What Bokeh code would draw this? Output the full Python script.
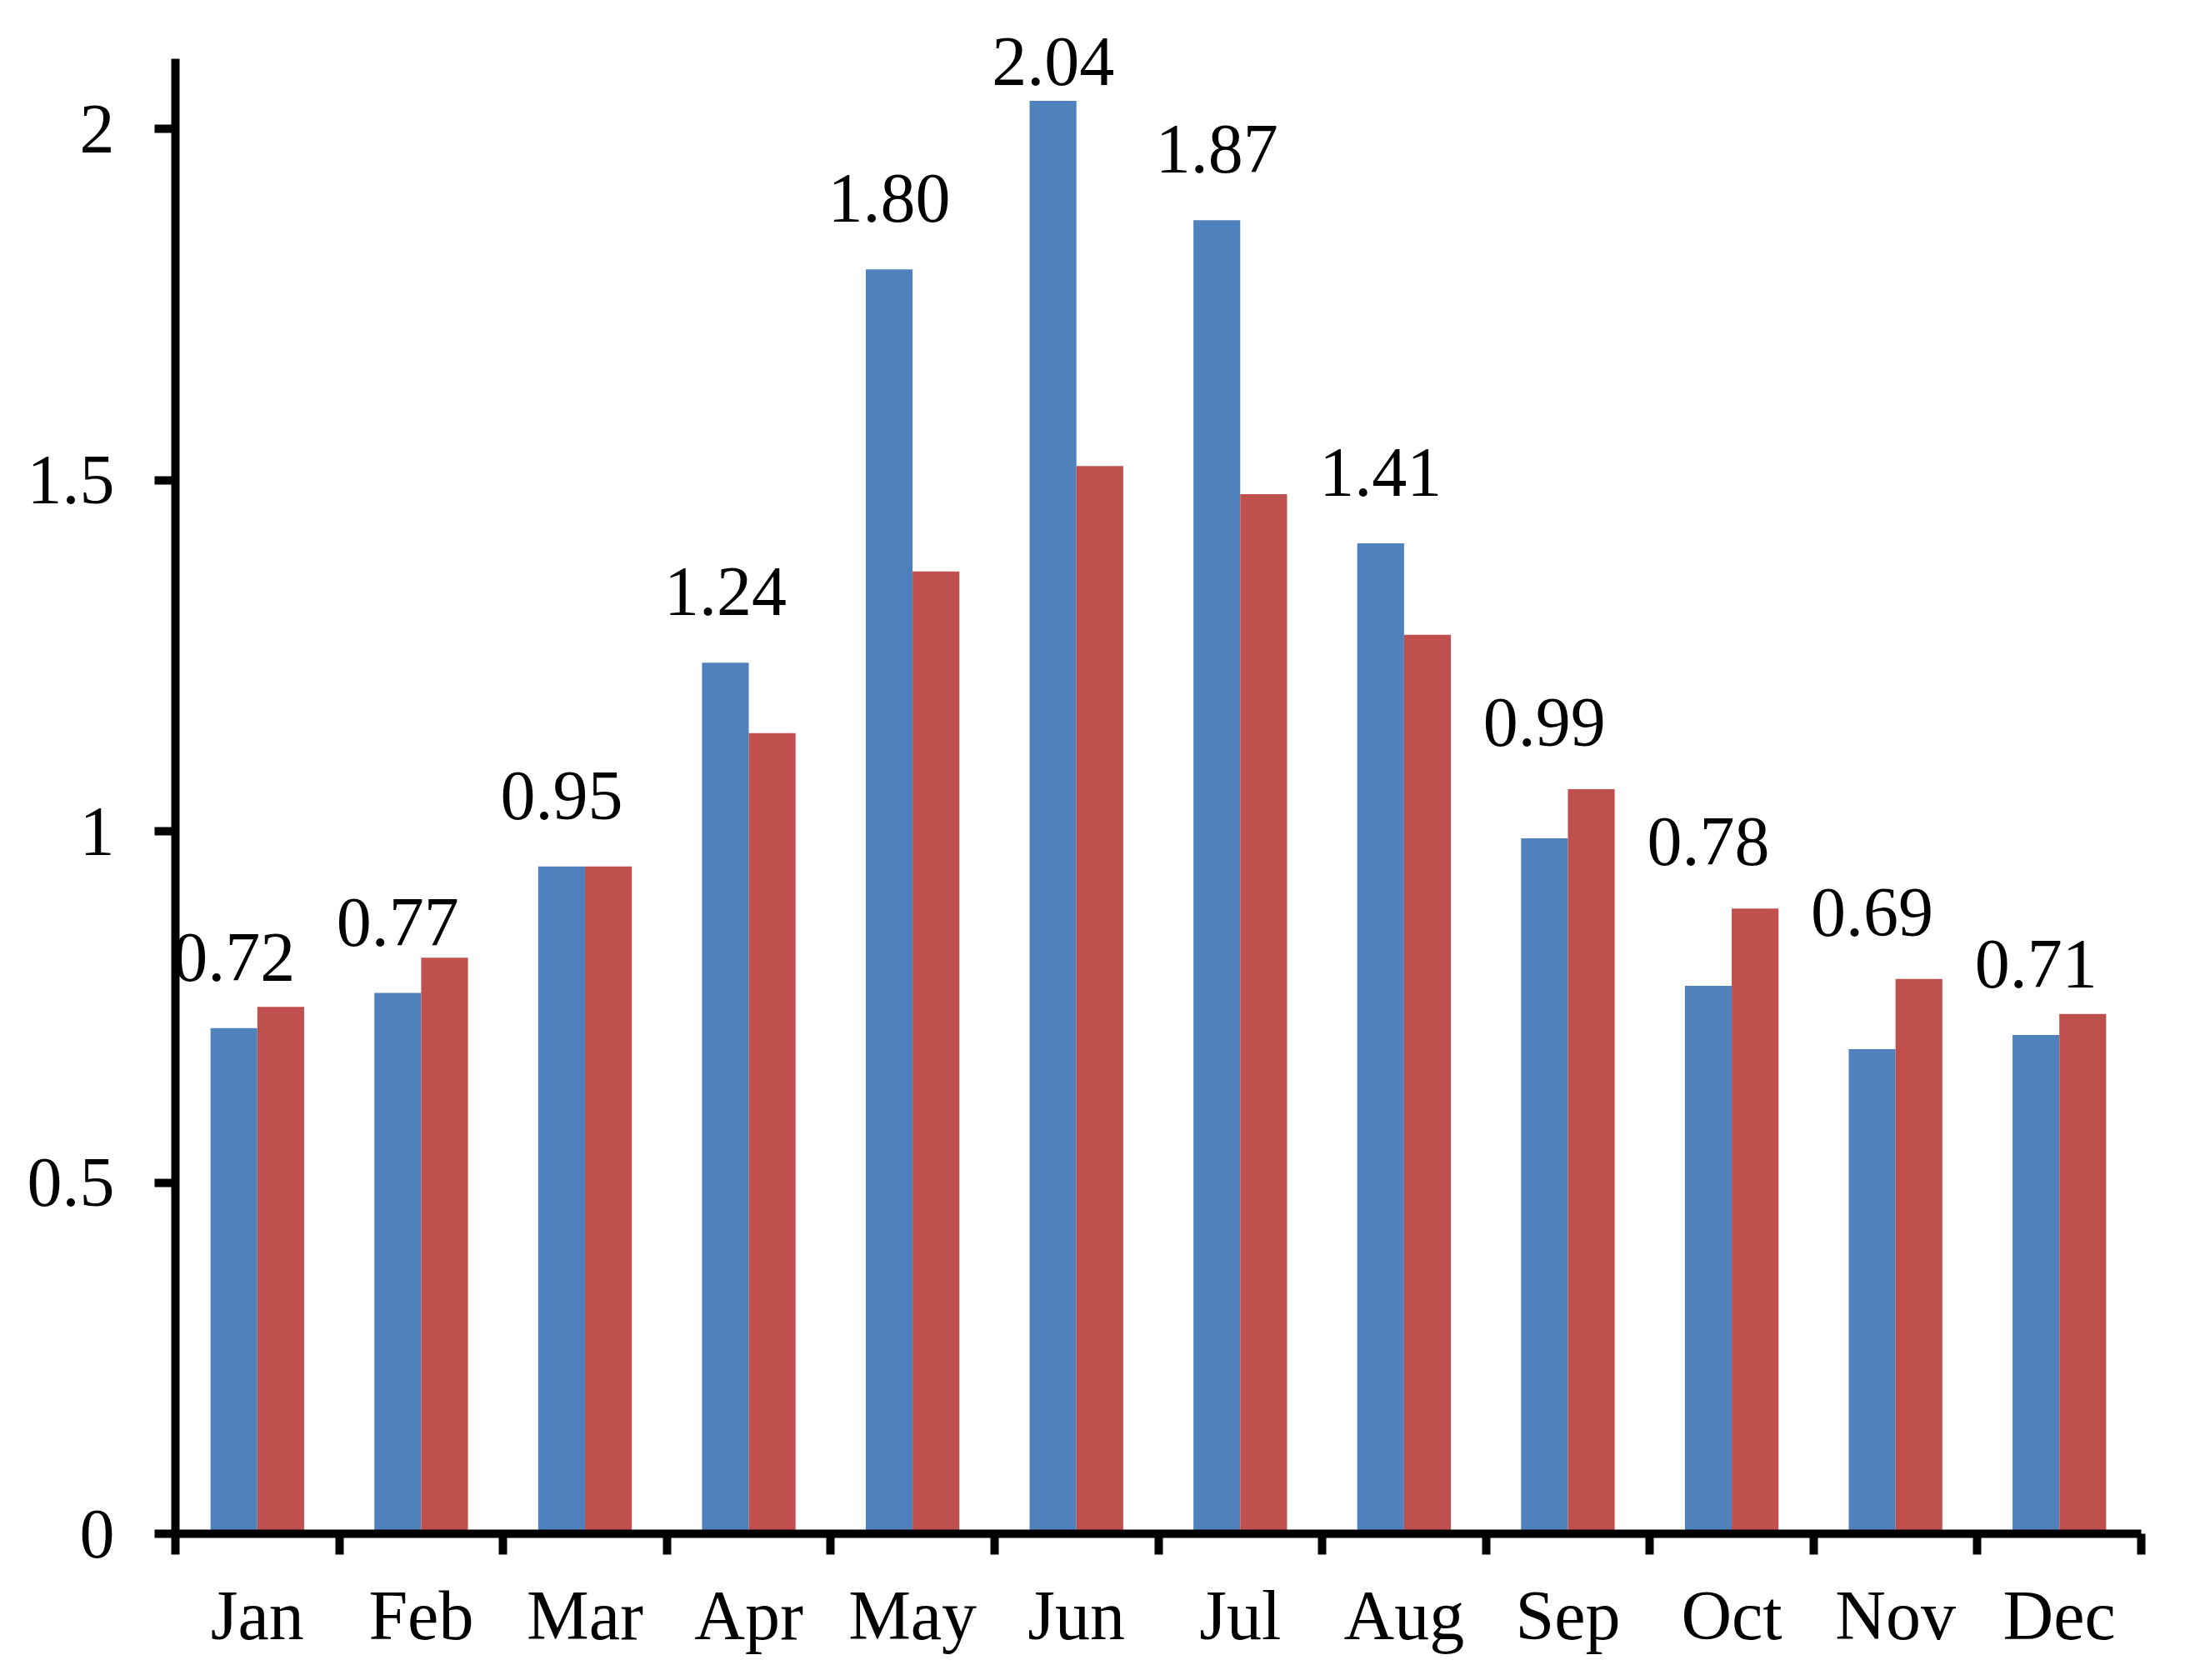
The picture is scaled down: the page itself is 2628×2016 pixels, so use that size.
from bokeh.plotting import figure
from bokeh.models import FactorRange, Range1d, LinearAxis, FixedTicker, ColumnDataSource
from bokeh.transform import dodge
from bokeh.core.properties import value
from bokeh.embed import file_html
from bokeh.resources import INLINE

# ---- data ----
months = ["Jan", "Feb", "Mar", "Apr", "May", "Jun", "Jul", "Aug", "Sep", "Oct", "Nov", "Dec"]
series_blue = [0.72, 0.77, 0.95, 1.24, 1.80, 2.04, 1.87, 1.41, 0.99, 0.78, 0.69, 0.71]
series_red = [0.75, 0.82, 0.95, 1.14, 1.37, 1.52, 1.48, 1.28, 1.06, 0.89, 0.79, 0.74]
y_ticks = [0, 0.5, 1, 1.5, 2]
y_tick_labels = ["0", "0.5", "1", "1.5", "2"]
y_axis_max = 2.1

BLUE = "#4F81BD"
RED = "#C0504D"
FONT = "Liberation Serif"
FSIZE = "84px"

W, H = 2628, 2016
LEFT, RIGHT, BOTTOM = 210, 59, 176
AXIS_TOP = 70             # pixel row where the y axis ends (value y_axis_max)
LABEL_GAP = 55            # gap between blue bar top and its label baseline
LABEL_GAP_OVER_RED = 50   # when the label would collide with the red bar it sits above it
LABEL_MIN_BASELINE = 103  # labels are kept inside the chart area (as Excel does)
TEXT_SHIFT = 30           # renderer places the alphabetic baseline this far below the anchor
frame_h = H - BOTTOM
# extend the frame to the top of the canvas so the top data label is not clipped
y_end = y_axis_max * frame_h / (frame_h - AXIS_TOP)
px_per_unit = frame_h / y_end

label_offsets = []
for vb, vr in zip(series_blue, series_red):
    top_b = frame_h - vb * px_per_unit
    top_r = frame_h - vr * px_per_unit
    baseline = top_b - LABEL_GAP
    if baseline > top_r:
        baseline = top_r - LABEL_GAP_OVER_RED
    baseline = max(baseline, LABEL_MIN_BASELINE)
    label_offsets.append(baseline - top_b - TEXT_SHIFT)

src = ColumnDataSource(dict(
    month=months,
    blue=series_blue,
    red=series_red,
    lab=[f"{v:.2f}" for v in series_blue],
    lab_off=label_offsets,
))

p = figure(
    x_range=FactorRange(*months, range_padding=0, factor_padding=0),
    y_range=Range1d(0, y_end),
    width=W, height=H,
    output_backend="svg", toolbar_location=None,
    x_axis_type=None,
    min_border_left=LEFT, min_border_right=RIGHT,
    min_border_top=0, min_border_bottom=BOTTOM,
)
p.outline_line_color = None
p.ygrid.grid_line_color = None
p.background_fill_color = "white"
p.border_fill_color = "white"

bw = 1 / 3.5  # gap width 150%
p.vbar(x=dodge("month", -bw / 2, range=p.x_range), top="blue", width=bw,
       source=src, fill_color=BLUE, line_color=None)
p.vbar(x=dodge("month", bw / 2, range=p.x_range), top="red", width=bw,
       source=src, fill_color=RED, line_color=None)

p.text(x=dodge("month", -bw / 2, range=p.x_range), y="blue", text="lab", source=src,
       text_font=value(FONT), text_font_size=FSIZE, text_color="black",
       text_align="center", text_baseline="alphabetic", y_offset="lab_off")

# y axis
ya = p.yaxis[0]
ya.bounds = (0, y_axis_max)
ya.ticker = FixedTicker(ticks=y_ticks, minor_ticks=[])
ya.major_label_overrides = {t: l for t, l in zip(y_ticks, y_tick_labels)}
ya.axis_line_color = "black"
ya.axis_line_width = 10
ya.major_tick_line_color = "black"
ya.major_tick_line_width = 10
ya.major_tick_out = 25
ya.major_tick_in = 0
ya.minor_tick_line_color = None
ya.major_label_text_font = FONT
ya.major_label_text_font_size = FSIZE
ya.major_label_text_color = "black"
ya.major_label_standoff = 48

# x axis: labels at category centres, ticks at category boundaries
centres = [i + 0.5 for i in range(len(months))]
bounds = list(range(len(months) + 1))
xa = LinearAxis(
    ticker=FixedTicker(ticks=centres, minor_ticks=bounds),
    major_label_overrides={c: m for c, m in zip(centres, months)},
)
xa.axis_line_color = "black"
xa.axis_line_width = 10
xa.major_tick_line_color = None
xa.major_tick_out = 25
xa.major_tick_in = 0
xa.minor_tick_line_color = "black"
xa.minor_tick_line_width = 10
xa.minor_tick_out = 25
xa.minor_tick_in = 0
xa.major_label_text_font = FONT
xa.major_label_text_font_size = FSIZE
xa.major_label_text_color = "black"
xa.major_label_standoff = 26
p.add_layout(xa, "below")

open("out.html", "w").write(file_html(p, INLINE))
